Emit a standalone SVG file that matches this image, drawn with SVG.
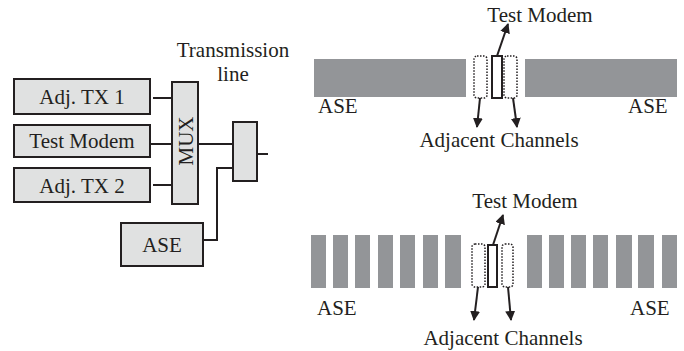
<svg xmlns="http://www.w3.org/2000/svg" width="684" height="351" viewBox="0 0 684 351">
<defs>
<style>
text{font-family:"Liberation Serif","Times New Roman",serif;font-size:21px;fill:#231f20}
.box{fill:#e0e1e1;stroke:#231f20;stroke-width:2}
.ln{fill:none;stroke:#231f20;stroke-width:2}
.bar{fill:#939598}
.dot{fill:none;stroke:#231f20;stroke-width:1.5;stroke-dasharray:1.5 1.5}
.ch{fill:#fff;stroke:#231f20;stroke-width:2}
.arr{fill:none;stroke:#231f20;stroke-width:2;marker-end:url(#ah)}
</style>
<marker id="ah" markerWidth="10" markerHeight="10" viewBox="0 0 10 10" refX="9" refY="5" orient="auto" markerUnits="userSpaceOnUse">
<path d="M0,0 L10,5 L0,10 Z" fill="#231f20"/>
</marker>
</defs>
<rect width="684" height="351" fill="#fff"/>
<g id="connectors">
<path class="ln" d="M153,98 H172"/>
<path class="ln" d="M150,144 H172"/>
<path class="ln" d="M153,185 H172"/>
<path class="ln" d="M198,144 H233"/>
<path class="ln" d="M203,240 H217 V168 H233"/>
<path class="ln" d="M257,154 H268"/>
</g>
<g id="adjtx1"><rect class="box" x="14" y="79" width="136" height="35"/><text x="82" y="104" text-anchor="middle">Adj. TX 1</text></g>
<g id="testmodem"><rect class="box" x="14" y="125" width="136" height="32"/><text x="82" y="148" text-anchor="middle">Test Modem</text></g>
<g id="adjtx2"><rect class="box" x="14" y="168" width="136" height="34"/><text x="82" y="193" text-anchor="middle">Adj. TX 2</text></g>
<g id="mux"><rect class="box" x="172" y="82" width="26" height="122"/><text transform="translate(193,141) rotate(-90)" text-anchor="middle">MUX</text></g>
<g id="combiner"><rect class="box" x="233" y="122" width="24" height="59"/></g>
<g id="ase"><rect class="box" x="121" y="223" width="82" height="43"/><text x="162" y="252" text-anchor="middle">ASE</text></g>
<g id="transmission-label"><text x="233" y="57" text-anchor="middle">Transmission</text><text x="233" y="81" text-anchor="middle">line</text></g>
<g id="spectrum-top">
<rect class="bar" x="314" y="59" width="152" height="38"/>
<rect class="bar" x="525" y="59" width="152" height="38"/>
<rect class="dot" x="474" y="56" width="13" height="42" rx="3"/>
<rect class="dot" x="504" y="56" width="13" height="42" rx="3"/>
<rect class="ch" x="492" y="56" width="10" height="42"/>
<path class="arr" d="M497,56 L508,24"/>
<path class="arr" d="M480,98 L477,127"/>
<path class="arr" d="M513,98 L517,127"/>
<text x="540" y="22" text-anchor="middle">Test Modem</text>
<text x="318" y="113">ASE</text>
<text x="628" y="113">ASE</text>
<text x="499" y="147" text-anchor="middle">Adjacent Channels</text>
</g>
<g id="spectrum-bottom">
<rect class="bar" x="311" y="235" width="15" height="53"/>
<rect class="bar" x="333" y="235" width="15" height="53"/>
<rect class="bar" x="355" y="235" width="15" height="53"/>
<rect class="bar" x="378" y="235" width="15" height="53"/>
<rect class="bar" x="400" y="235" width="15" height="53"/>
<rect class="bar" x="423" y="235" width="15" height="53"/>
<rect class="bar" x="445" y="235" width="16" height="53"/>
<rect class="bar" x="527" y="235" width="15" height="53"/>
<rect class="bar" x="549" y="235" width="15" height="53"/>
<rect class="bar" x="571" y="235" width="15" height="53"/>
<rect class="bar" x="593" y="235" width="15" height="53"/>
<rect class="bar" x="616" y="235" width="16" height="53"/>
<rect class="bar" x="638" y="235" width="16" height="53"/>
<rect class="bar" x="662" y="235" width="15" height="53"/>
<rect class="dot" x="472" y="244" width="13" height="43" rx="3"/>
<rect class="dot" x="502" y="244" width="11" height="43" rx="3"/>
<rect class="ch" x="488" y="245" width="9" height="42"/>
<path class="arr" d="M493,245 L503,215"/>
<path class="arr" d="M478,287 L474,320"/>
<path class="arr" d="M508,287 L511,320"/>
<text x="525" y="208" text-anchor="middle">Test Modem</text>
<text x="317" y="315">ASE</text>
<text x="630" y="315">ASE</text>
<text x="503" y="345" text-anchor="middle">Adjacent Channels</text>
</g>
</svg>
